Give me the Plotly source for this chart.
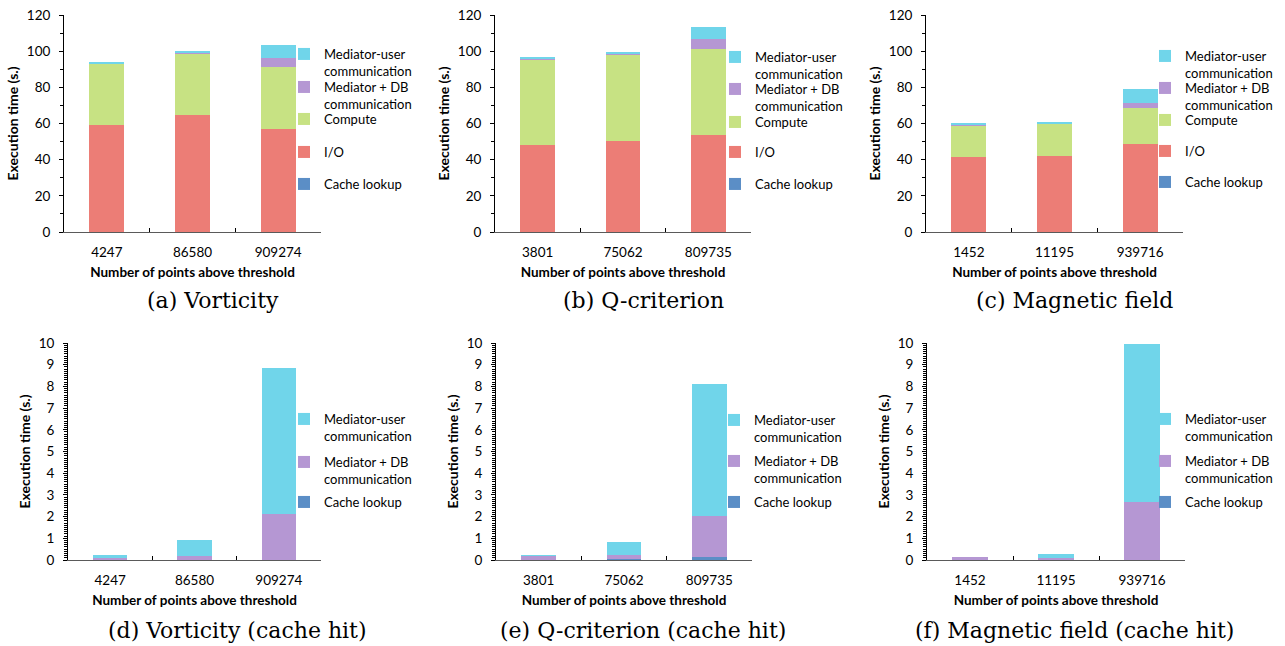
import plotly.graph_objects as go

W, H = 1285, 646

# ---------------- data ----------------
cats_vort = ["4247", "86580", "909274"]
cats_q = ["3801", "75062", "809735"]
cats_mag = ["1452", "11195", "939716"]

# (a) Vorticity
a_cache = [0.02, 0.02, 0.02]
a_io = [59.1, 64.6, 56.9]
a_compute = [34.1, 34.2, 34.3]
a_meddb = [0.1, 0.2, 5.0]
a_meduser = [0.6, 0.8, 7.2]

# (b) Q-criterion
b_cache = [0.02, 0.02, 0.02]
b_io = [48.0, 50.2, 53.5]
b_compute = [47.6, 48.2, 47.7]
b_meddb = [0.1, 0.1, 5.3]
b_meduser = [0.8, 0.8, 6.8]

# (c) Magnetic field
c_cache = [0.02, 0.02, 0.02]
c_io = [41.4, 42.1, 48.7]
c_compute = [17.7, 17.7, 20.0]
c_meddb = [0.1, 0.1, 2.4]
c_meduser = [1.0, 0.9, 7.9]

# (d) Vorticity (cache hit)
d_cache = [0.02, 0.02, 0.02]
d_meddb = [0.06, 0.16, 2.12]
d_meduser = [0.15, 0.74, 6.72]

# (e) Q-criterion (cache hit)
e_cache = [0.02, 0.03, 0.12]
e_meddb = [0.20, 0.19, 1.91]
e_meduser = [0.01, 0.61, 6.09]

# (f) Magnetic field (cache hit)
f_cache = [0.01, 0.01, 0.01]
f_meddb = [0.13, 0.08, 2.67]
f_meduser = [0.0, 0.19, 7.29]

subtitles = ["(a) Vorticity", "(b) Q-criterion", "(c) Magnetic field",
             "(d) Vorticity (cache hit)", "(e) Q-criterion (cache hit)",
             "(f) Magnetic field (cache hit)"]

NAMES = {
    "cache": "Cache lookup",
    "io": "I/O",
    "compute": "Compute",
    "meddb": "Mediator + DB<br>communication",
    "meduser": "Mediator-user<br>communication",
}

# ---------------- style ----------------
COL = {
    "cache": "#5b8ec6",
    "io": "#ec7d76",
    "compute": "#c7e283",
    "meddb": "#b597d3",
    "meduser": "#70d5ea",
}
SANS = "Lato, Calibri, sans-serif"
SERIF = "DejaVu Serif, serif"
LEG_TEXT_DX = 38   # legend x -> text start
LEG_TEXT_DY = 16   # legend top -> first text line centre


def px_x(p):
    return p / W


def px_y(p):
    return 1 - p / H


panels = [
    dict(cats=cats_vort,
         series=[("cache", a_cache), ("io", a_io), ("compute", a_compute),
                 ("meddb", a_meddb), ("meduser", a_meduser)],
         xd=(64, 321), yd=(15, 232), yr=120, legx=322,
         legy=dict(meduser=55, meddb=88, compute=120, io=153, cache=185),
         sub=(213, 300)),
    dict(cats=cats_q,
         series=[("cache", b_cache), ("io", b_io), ("compute", b_compute),
                 ("meddb", b_meddb), ("meduser", b_meduser)],
         xd=(495, 751), yd=(15, 232), yr=120, legx=753,
         legy=dict(meduser=58, meddb=90, compute=123, io=153, cache=185),
         sub=(643, 300)),
    dict(cats=cats_mag,
         series=[("cache", c_cache), ("io", c_io), ("compute", c_compute),
                 ("meddb", c_meddb), ("meduser", c_meduser)],
         xd=(926, 1183), yd=(15, 232), yr=120, legx=1183,
         legy=dict(meduser=57, meddb=89, compute=121, io=152, cache=183),
         sub=(1074, 300)),
    dict(cats=cats_vort,
         series=[("cache", d_cache), ("meddb", d_meddb), ("meduser", d_meduser)],
         xd=(68, 321), yd=(343, 560), yr=10, legx=322,
         legy=dict(meduser=420, meddb=463, cache=503),
         sub=(237, 630)),
    dict(cats=cats_q,
         series=[("cache", e_cache), ("meddb", e_meddb), ("meduser", e_meduser)],
         xd=(496, 752), yd=(343, 560), yr=10, legx=752,
         legy=dict(meduser=421, meddb=462, cache=503),
         sub=(643, 630)),
    dict(cats=cats_mag,
         series=[("cache", f_cache), ("meddb", f_meddb), ("meduser", f_meduser)],
         xd=(927, 1185), yd=(343, 560), yr=10, legx=1183,
         legy=dict(meduser=420, meddb=462, cache=503),
         sub=(1074, 630)),
]

fig = go.Figure()
layout = dict(
    width=W, height=H, margin=dict(l=0, r=0, t=0, b=0, autoexpand=False),
    paper_bgcolor="white", plot_bgcolor="white",
    barmode="stack", showlegend=True, font=dict(family=SANS, color="#000"),
    annotations=[],
)

leg_count = 0
for i, p in enumerate(panels):
    n = i + 1
    xa = "x" if n == 1 else f"x{n}"
    ya = "y" if n == 1 else f"y{n}"
    for key, vals in p["series"]:
        leg_count += 1
        lg = "legend" if leg_count == 1 else f"legend{leg_count}"
        fig.add_trace(go.Bar(
            x=p["cats"], y=vals, name=NAMES[key], xaxis=xa, yaxis=ya, legend=lg,
            marker=dict(color=COL[key], line=dict(width=0)), width=0.41,
        ))
        layout[lg] = dict(
            x=px_x(p["legx"] - LEG_TEXT_DX), y=px_y(p["legy"][key] - LEG_TEXT_DY),
            xanchor="left", yanchor="top", valign="top", bgcolor="rgba(0,0,0,0)",
            font=dict(size=13, family=SANS, color="#000"),
            itemclick=False, itemdoubleclick=False,
        )
    sfx = "" if n == 1 else str(n)
    layout[f"xaxis{sfx}"] = dict(
        domain=[px_x(p["xd"][0]), px_x(p["xd"][1])], anchor=ya, type="category",
        range=[-0.5, 2.5], showline=True, linecolor="#5a5a5a", linewidth=1.3,
        ticks="inside", tickson="boundaries", ticklen=4, tickcolor="#000", tickwidth=1,
        showgrid=False, zeroline=False, tickfont=dict(size=13.5, family=SANS),
        ticklabelstandoff=8,
        title=dict(text="<b>Number of points above threshold</b>",
                   font=dict(size=13.5, family=SANS), standoff=8),
    )
    full = p["yr"] == 120
    major = 20 if full else 1
    minor = 10 if full else 0.1
    layout[f"yaxis{sfx}"] = dict(
        domain=[px_y(p["yd"][1]), px_y(p["yd"][0])], anchor=xa,
        range=[0, p["yr"]], dtick=major, tick0=0, showline=True, linecolor="#000",
        linewidth=1, ticks="outside", ticklen=4, tickcolor="#000", tickwidth=1,
        minor=dict(dtick=minor, ticks="outside", ticklen=3, tickcolor="#000", tickwidth=1,
                   showgrid=False),
        showgrid=False, zeroline=False, tickfont=dict(size=13.5, family=SANS),
        ticklabelstandoff=6,
        title=dict(text="<b>Execution time (s.)</b>", font=dict(size=14, family=SANS),
                   standoff=4),
    )
    layout["annotations"].append(dict(
        text=subtitles[i], x=px_x(p["sub"][0]), y=px_y(p["sub"][1]),
        xref="paper", yref="paper", xanchor="center", yanchor="middle",
        showarrow=False, font=dict(size=22, family=SERIF, color="#000"),
    ))

fig.update_layout(**layout)
fig.write_html(
    "out.html",
    config={"displayModeBar": False},
    post_script="document.body.style.margin='0';document.documentElement.style.overflow='hidden';",
)
